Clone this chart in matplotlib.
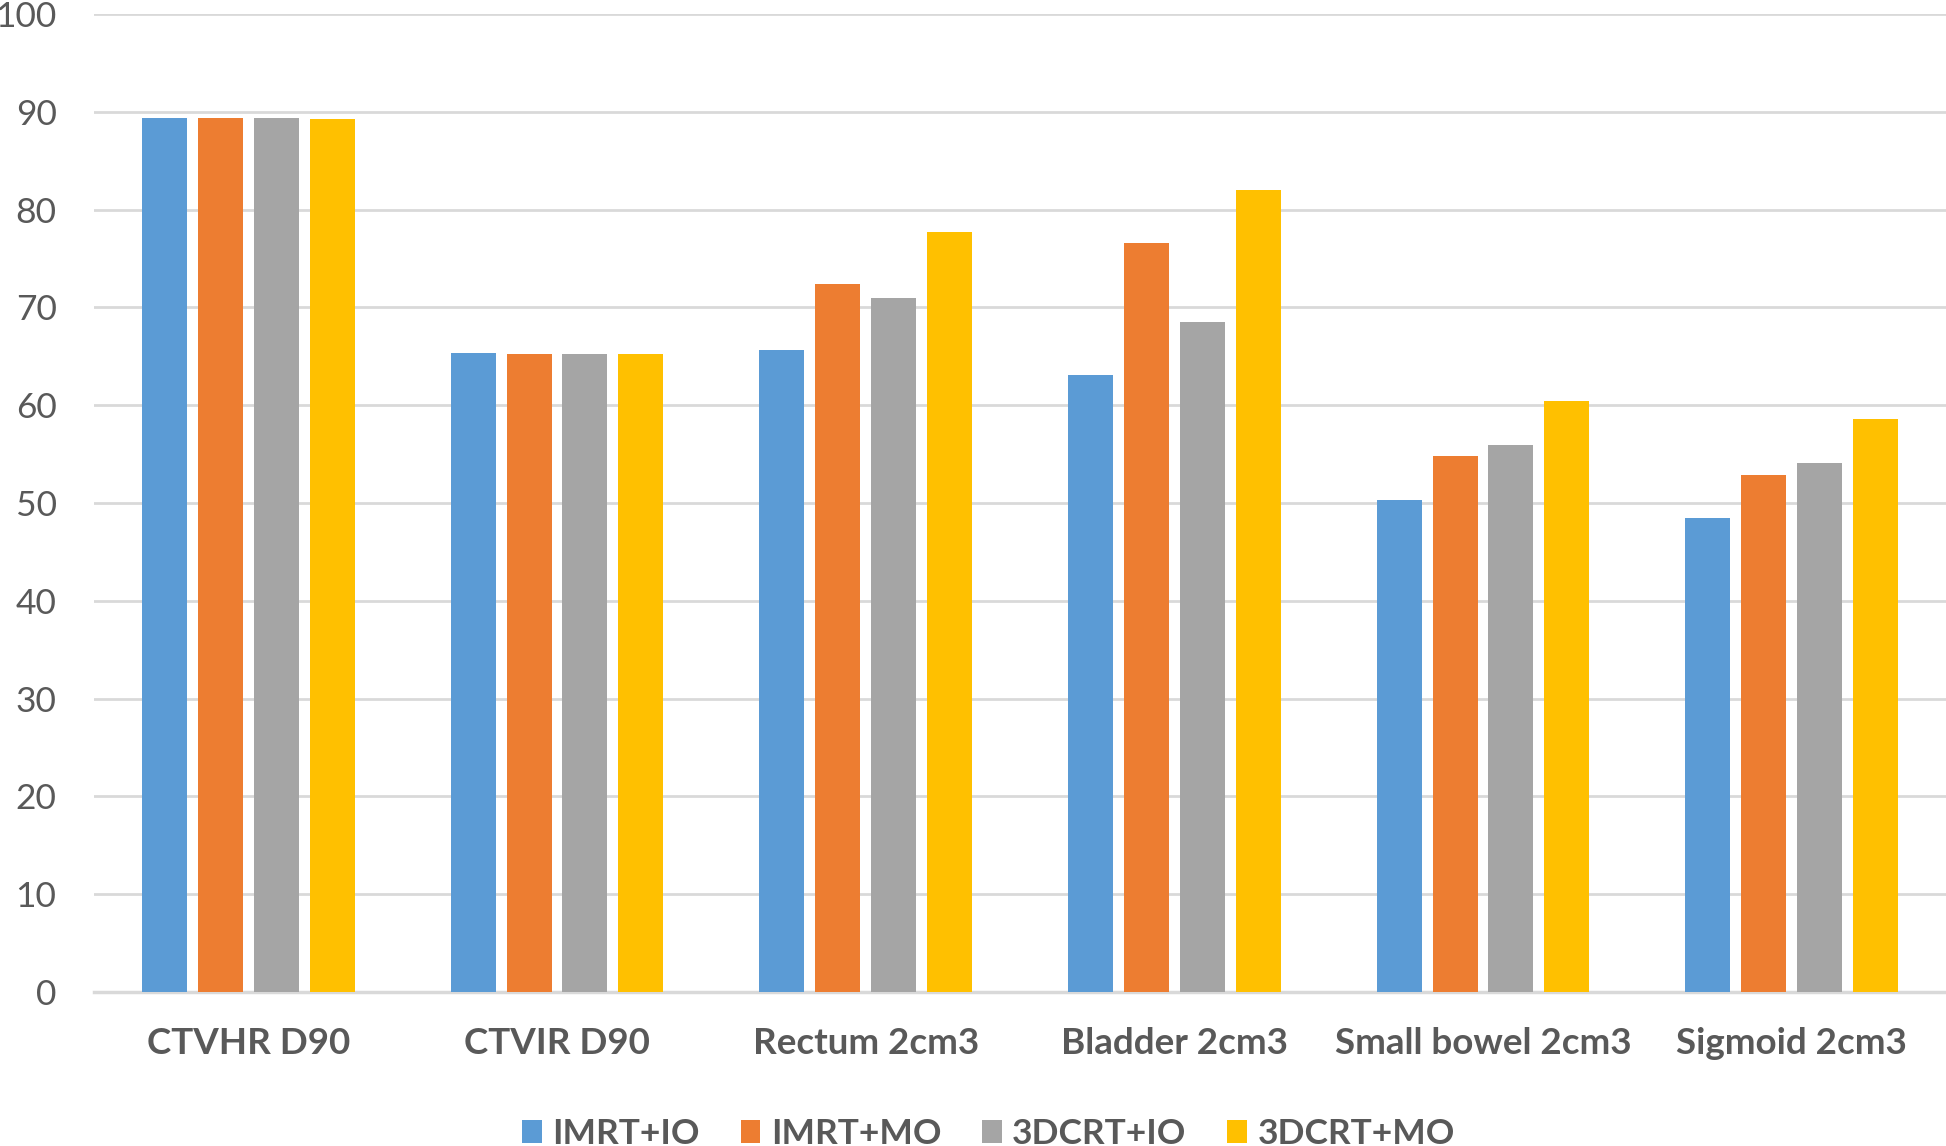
import matplotlib.pyplot as plt
import numpy as np

plt.rcParams['font.family'] = ['Lato', 'DejaVu Sans']

categories = ['CTVHR D90', 'CTVIR D90', 'Rectum 2cm3', 'Bladder 2cm3',
              'Small bowel 2cm3', 'Sigmoid 2cm3']
series_names = ['IMRT+IO', 'IMRT+MO', '3DCRT+IO', '3DCRT+MO']
imrt_io = [89.4, 65.3, 65.6, 63.1, 50.3, 48.5]
imrt_mo = [89.4, 65.2, 72.4, 76.6, 54.8, 52.9]
crt_io = [89.4, 65.2, 71.0, 68.5, 55.9, 54.1]
crt_mo = [89.3, 65.2, 77.7, 82.0, 60.4, 58.6]
y_ticks = [0, 10, 20, 30, 40, 50, 60, 70, 80, 90, 100]

colors = ['#5B9BD5', '#ED7D31', '#A5A5A5', '#FFC000']
text_color = '#595959'

fig = plt.figure(figsize=(19.46, 11.46), dpi=100)
ax = fig.add_axes([94 / 1946, 1 - 992 / 1146, 1 - 94 / 1946, (992 - 14) / 1146])

x = np.arange(len(categories))
width = 0.146
step = 0.181
for i, vals in enumerate([imrt_io, imrt_mo, crt_io, crt_mo]):
    ax.bar(x + (i - 1.5) * step, vals, width, color=colors[i],
           label=series_names[i], zorder=3)

ax.set_xlim(-0.5, len(categories) - 0.5)
ax.set_ylim(0, 100)
ax.set_yticks(y_ticks)
ax.set_xticks(x)
ax.set_xticklabels(categories, fontsize=26.5, fontweight='bold', color=text_color)
ax.tick_params(axis='x', length=0, pad=25)
ax.tick_params(axis='y', length=0, pad=27, labelsize=25.5, labelcolor=text_color)
ax.grid(axis='y', color='#d9d9d9', linewidth=2, zorder=0)
for s in ['top', 'right', 'left']:
    ax.spines[s].set_visible(False)
ax.spines['bottom'].set_color('#d9d9d9')
ax.spines['bottom'].set_linewidth(2.5)

leg = fig.legend(loc='center', bbox_to_anchor=(0.508, 1 - 1134 / 1146), ncol=4,
                 frameon=False, handlelength=0.55, handleheight=0.65,
                 handletextpad=0.3, columnspacing=1.15,
                 prop={'size': 25.5, 'weight': 'bold'})
for t in leg.get_texts():
    t.set_color(text_color)

fig.savefig('out.png', dpi=100)
